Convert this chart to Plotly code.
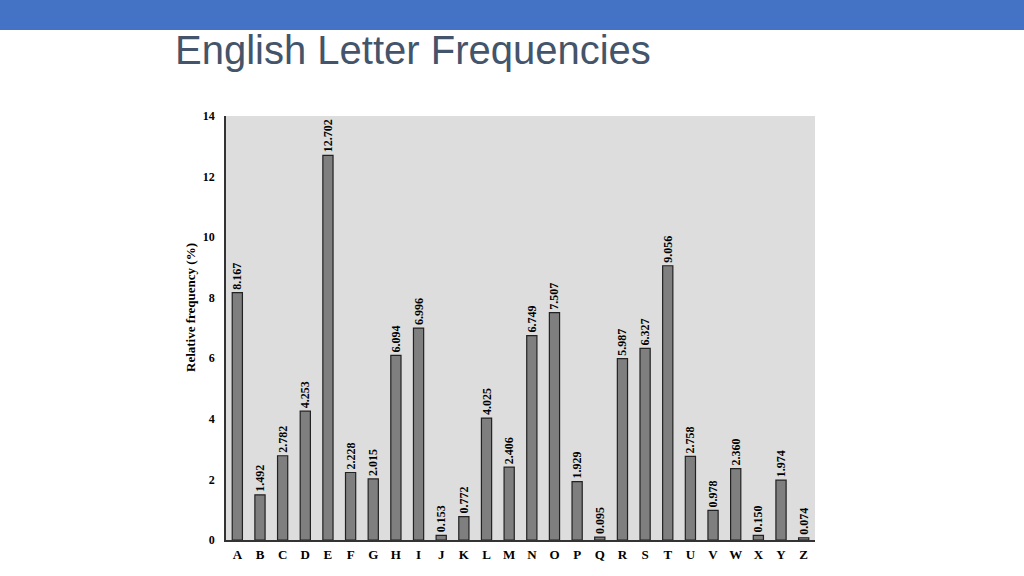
import plotly.graph_objects as go

letters = list("ABCDEFGHIJKLMNOPQRSTUVWXYZ")
freq = [8.167, 1.492, 2.782, 4.253, 12.702, 2.228, 2.015, 6.094, 6.996, 0.153,
        0.772, 4.025, 2.406, 6.749, 7.507, 1.929, 0.095, 5.987, 6.327, 9.056,
        2.758, 0.978, 2.360, 0.150, 1.974, 0.074]
labels = [f"{v:.3f}" for v in freq]
y_ticks = [0, 2, 4, 6, 8, 10, 12, 14]

serif = "Liberation Serif, Times New Roman, serif"

fig = go.Figure()
fig.add_trace(go.Bar(
    x=letters,
    y=freq,
    text=labels,
    textposition="outside",
    textangle=-90,
    constraintext="none",
    textfont=dict(family=serif, size=12, color="black", weight="bold"),
    cliponaxis=False,
    width=0.45,
    marker=dict(color="#7f7f7f", line=dict(color="#222222", width=1.2)),
))

fig.update_layout(
    width=1024,
    height=576,
    margin=dict(l=226, r=209, t=116, b=36),
    paper_bgcolor="white",
    plot_bgcolor="#dcdddc",
    showlegend=False,
    uniformtext=dict(minsize=12, mode="show"),
    # blue band across the top of the slide
    shapes=[dict(type="rect", xref="paper", yref="paper", x0=-1, x1=2,
                 y0=1.0 + 86 / 424, y1=2, fillcolor="#4472c4", line_width=0,
                 layer="below")],
    annotations=[
        dict(text="English Letter Frequencies", xref="paper", yref="paper",
             x=-53 / 589, y=1 + 66 / 424, xanchor="left", yanchor="middle",
             showarrow=False,
             font=dict(family="Liberation Sans, Arial, sans-serif",
                       size=40, color="#44546a")),
        dict(text="Relative frequency (%)", xref="paper", yref="paper",
             x=-36 / 589, y=(540 - 308) / 424, xanchor="center", yanchor="middle",
             textangle=-90, showarrow=False,
             font=dict(family=serif, size=13, color="black", weight="bold")),
    ],
)

fig.update_xaxes(
    range=[-0.5, 25.5],
    showline=True, linecolor="#333333", linewidth=1.5,
    showgrid=False, ticks="",
    ticklabelstandoff=2,
    tickfont=dict(family=serif, size=13, color="black", weight="bold"),
)
fig.update_yaxes(
    range=[0, 14],
    tickvals=y_ticks,
    showline=True, linecolor="#333333", linewidth=1.5,
    showgrid=False, zeroline=False, ticks="",
    ticklabelstandoff=7,
    tickfont=dict(family=serif, size=12, color="black", weight="bold"),
)

fig.write_html("out.html", config={"displayModeBar": False},
               post_script="document.body.style.margin='0';")
